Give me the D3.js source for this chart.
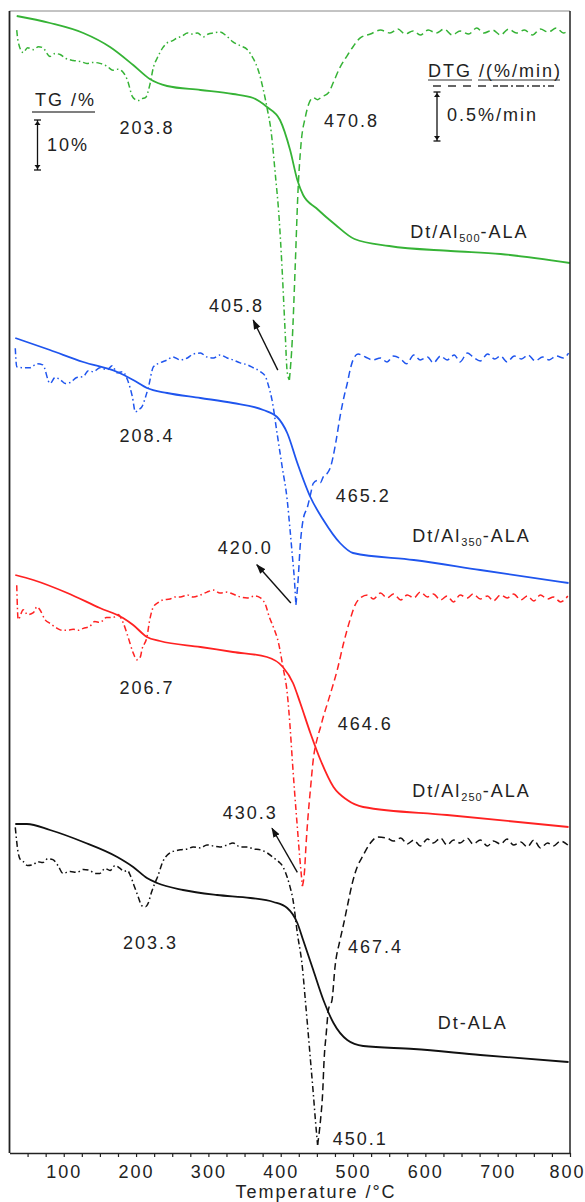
<!DOCTYPE html>
<html>
<head>
<meta charset="utf-8">
<script src="https://cdn.jsdelivr.net/npm/d3@7"></script>
<style>
  body { margin: 0; background: #fff; }
  text { font-family: "Liberation Sans", Arial, sans-serif; font-size: 18px; letter-spacing: 2px; fill: #222; }
</style>
</head>
<body>
<div id="chart"></div>
<script>
// ---- data (temperature °C, TG %, DTG %/min) ----
var greenTG = [[35,100],[81,98.6],[127,96.6],[164,93.8],[196,90.2],[219,87.4],[243,86],[289,85.2],[334,84.4],[362,83.6],[381,81.8],[399,79.2],[413,73.2],[423,67.2],[431,64.2],[449,61.6],[476,58.2],[502,55.4],[550,54],[635,53],[704,52.4],[800,50.6]];
var greenDTG = [[35,0.03],[37,-0.09],[44,-0.2],[50,-0.15],[58,-0.17],[65,-0.14],[71,-0.15],[81,-0.24],[88,-0.21],[95,-0.22],[103,-0.26],[113,-0.28],[123,-0.29],[132,-0.31],[141,-0.3],[150,-0.31],[160,-0.34],[168,-0.38],[175,-0.37],[182,-0.4],[188,-0.48],[195,-0.65],[199,-0.68],[203,-0.69],[208,-0.67],[213,-0.66],[219,-0.53],[224,-0.35],[229,-0.26],[233,-0.2],[237,-0.15],[243,-0.1],[250,-0.08],[257,-0.05],[264,-0.03],[271,0],[277,-0.01],[285,0],[293,-0.04],[300,-0.01],[307,0],[316,0.01],[325,-0.03],[334,-0.09],[344,-0.13],[354,-0.17],[362,-0.26],[369,-0.38],[376,-0.58],[381,-0.76],[387,-1.02],[392,-1.4],[398,-1.91],[402,-2.42],[406,-3.03],[409,-3.46],[412,-3.54],[416,-3.13],[420,-2.39],[424,-1.6],[428,-1.14],[434,-0.86],[439,-0.72],[445,-0.66],[451,-0.68],[457,-0.65],[466,-0.61],[473,-0.5],[482,-0.35],[492,-0.23],[500,-0.14],[510,-0.05],[524,-0.01],[538,0.03],[551,0],[562,0.04],[572,-0.01],[583,0.02],[593,-0.02],[604,0.03],[615,0],[626,0.04],[637,-0.02],[648,0.02],[660,-0.01],[671,0.05],[681,0],[693,0.03],[704,-0.02],[715,0.04],[726,0],[737,0.03],[748,-0.02],[759,0.04],[770,0.01],[781,0.05],[791,0],[798,0.03]];

var blueTG = [[33,100],[81,97.6],[127,95.2],[174,93.2],[196,91.6],[215,90],[243,89],[289,88],[334,87],[376,85.6],[395,84.2],[409,81],[423,75],[441,68.2],[459,63.6],[482,59],[500,57],[584,55.6],[676,53.6],[798,51]];
var blueDTG = [[33,0.09],[35,-0.1],[44,-0.11],[53,-0.11],[63,-0.07],[71,-0.08],[81,-0.27],[88,-0.21],[95,-0.23],[102,-0.27],[109,-0.26],[118,-0.21],[127,-0.2],[134,-0.14],[141,-0.15],[150,-0.11],[160,-0.13],[167,-0.09],[174,-0.16],[181,-0.15],[188,-0.23],[195,-0.41],[199,-0.56],[203,-0.54],[208,-0.51],[213,-0.41],[217,-0.31],[224,-0.1],[233,-0.06],[243,-0.03],[251,0],[261,-0.03],[271,-0.01],[279,0.03],[289,0.04],[298,0],[307,-0.01],[316,0.02],[326,-0.01],[334,-0.03],[344,-0.06],[354,-0.08],[362,-0.11],[372,-0.15],[379,-0.2],[383,-0.29],[388,-0.44],[395,-0.78],[402,-1.12],[409,-1.46],[413,-1.77],[416,-2.02],[419,-2.28],[421,-2.53],[424,-2.28],[427,-1.92],[431,-1.66],[437,-1.53],[441,-1.41],[445,-1.29],[451,-1.26],[455,-1.28],[459,-1.22],[464,-1.19],[469,-1.12],[476,-0.88],[482,-0.61],[488,-0.39],[492,-0.27],[496,-0.13],[500,-0.03],[507,0.03],[517,0],[527,-0.03],[538,-0.01],[547,-0.05],[556,0.01],[566,-0.02],[574,-0.07],[584,0.02],[593,-0.03],[603,0],[611,-0.06],[621,0.01],[630,-0.03],[640,0.02],[648,-0.05],[658,0.04],[666,0],[676,-0.04],[686,0.03],[696,-0.02],[704,0.01],[713,-0.05],[723,0.01],[733,-0.02],[742,0.02],[752,-0.04],[762,0],[771,-0.03],[781,0.01],[791,-0.01],[798,0.04]];

var redTG = [[33,100],[58,99],[105,96.4],[150,93.4],[182,91.4],[196,90],[215,87.6],[233,86.8],[289,85.6],[334,84.6],[381,83.6],[403,81.6],[417,78.4],[427,74.4],[441,68.4],[455,63],[473,57.6],[492,55],[514,53.6],[630,52],[798,49.6]];
var redDTG = [[35,0.11],[37,-0.24],[44,-0.14],[50,-0.19],[58,-0.17],[63,-0.11],[67,-0.14],[74,-0.24],[81,-0.28],[91,-0.33],[98,-0.35],[105,-0.35],[113,-0.34],[120,-0.35],[127,-0.33],[136,-0.31],[143,-0.26],[150,-0.27],[159,-0.22],[168,-0.22],[175,-0.19],[182,-0.27],[189,-0.42],[196,-0.58],[201,-0.65],[206,-0.62],[208,-0.55],[215,-0.42],[219,-0.24],[224,-0.11],[230,-0.07],[237,-0.04],[247,-0.03],[254,-0.01],[261,-0.01],[271,0.01],[279,-0.01],[289,0.01],[298,0.04],[307,0.06],[316,0.03],[326,0.04],[334,0.02],[344,-0.01],[354,-0.02],[364,0],[372,-0.02],[379,-0.09],[384,-0.21],[390,-0.32],[397,-0.48],[403,-0.72],[409,-0.99],[413,-1.34],[416,-1.67],[419,-1.98],[423,-2.36],[426,-2.64],[430,-2.96],[433,-2.8],[435,-2.54],[438,-2.23],[441,-1.98],[445,-1.67],[451,-1.44],[455,-1.34],[459,-1.23],[464,-1.11],[469,-0.99],[478,-0.76],[487,-0.48],[496,-0.24],[503,-0.09],[510,-0.02],[520,0.01],[528,-0.03],[538,0.03],[547,-0.02],[556,0.02],[566,-0.04],[575,0.01],[584,-0.02],[593,0.04],[603,-0.01],[611,0.02],[621,-0.04],[630,0],[639,-0.06],[648,0.01],[658,-0.02],[666,0.02],[676,-0.03],[686,0],[694,-0.05],[704,0.01],[713,-0.02],[722,0.02],[732,-0.04],[741,0],[750,-0.05],[759,0.01],[769,-0.03],[777,-0.01],[787,-0.06],[797,0]];

var blackTG = [[33,100],[49,100],[81,98.8],[127,96.4],[174,93.4],[196,91.4],[215,89.2],[229,88.2],[265,86.8],[312,85.8],[358,85.2],[390,84.4],[409,83.2],[423,80.2],[431,76.8],[445,70.8],[459,64.8],[473,60.2],[492,56.8],[514,55.6],[584,55],[676,53.8],[798,52.4]];
var blackDTG = [[33,0.16],[37,-0.1],[40,-0.17],[44,-0.19],[50,-0.23],[58,-0.22],[64,-0.19],[71,-0.2],[78,-0.16],[85,-0.17],[92,-0.23],[99,-0.31],[109,-0.29],[118,-0.3],[127,-0.27],[136,-0.28],[143,-0.31],[150,-0.31],[157,-0.26],[164,-0.28],[171,-0.23],[178,-0.26],[183,-0.29],[188,-0.28],[192,-0.33],[197,-0.43],[203,-0.55],[208,-0.64],[213,-0.65],[217,-0.61],[221,-0.51],[226,-0.41],[230,-0.34],[237,-0.19],[247,-0.1],[254,-0.08],[261,-0.07],[271,-0.06],[279,-0.04],[289,-0.05],[298,-0.02],[307,-0.03],[316,-0.04],[326,-0.02],[334,0],[344,-0.04],[354,-0.04],[362,-0.06],[372,-0.07],[381,-0.1],[390,-0.15],[397,-0.19],[403,-0.24],[409,-0.35],[413,-0.45],[417,-0.58],[423,-0.92],[430,-1.27],[434,-1.6],[438,-1.94],[442,-2.29],[445,-2.55],[448,-2.83],[451,-3.08],[455,-2.83],[458,-2.55],[460,-2.21],[463,-1.94],[466,-1.7],[471,-1.6],[475,-1.27],[482,-0.99],[486,-0.86],[492,-0.65],[499,-0.41],[506,-0.24],[513,-0.14],[524,0],[534,0.06],[547,0.05],[556,0.02],[566,0.05],[575,-0.01],[584,0.03],[593,-0.03],[603,0.04],[611,0],[621,0.05],[630,-0.02],[639,0.03],[648,0],[658,0.05],[666,-0.01],[676,0.03],[686,-0.03],[694,0.02],[704,-0.01],[713,0.04],[722,-0.02],[732,0.01],[741,-0.04],[750,0.03],[759,-0.05],[769,0],[777,-0.03],[787,0.02],[797,-0.02]];

var sampleNames = [["Dt/Al", "500", "-ALA"], ["Dt/Al", "350", "-ALA"], ["Dt/Al", "250", "-ALA"], ["Dt-ALA", "", ""]];
var seriesTG = [greenTG, blueTG, redTG, blackTG];
var seriesDTG = [greenDTG, blueDTG, redDTG, blackDTG];

// peak labels: [text, T, DTG value]
var peakLabels = [
  [["203.8", 215, -0.96], ["470.8", 498, -0.89], ["405.8", 339, -2.78]],
  [["208.4", 215, -0.80], ["465.2", 514, -1.41], ["420.0", 351, -1.94]],
  [["206.7", 215, -0.93], ["464.6", 517, -1.30], ["430.3", 358, -2.21]],
  [["203.3", 220, -1.02], ["467.4", 531, -1.06], ["450.1", 510, -3.02]]
];
// arrows: [T tail, DTG tail, T head, DTG head]
var peakArrows = [[396, -3.44, 362, -2.93], [414, -2.51, 367, -2.12], [423, -2.82, 388, -2.37], null];
// sample name position: [T, TG value]
var nameAt = [[579, 57], [582, 60.6], [582, 57], [617, 60.4]];

var xTicks = d3.range(50, 801, 25);

// ---- layout ----
var width = 585, height = 1202;
var plotL = 9.5, plotR = 570, plotT = 11, plotB = 1153;
var colors = ["#36b336", "#1f55ee", "#ff2222", "#111111"];
var tgTop = [16, 338, 575, 824];     // y of 100 %
var dtgBase = [33, 357, 596, 843];   // y of 0 %/min
var pxPerPct = 5, pxPerRate = 98;

var svg = d3.select("#chart").append("svg")
    .attr("width", width).attr("height", height);

var defs = svg.append("defs");
defs.append("marker")
    .attr("id", "arr").attr("viewBox", "0 0 10 10")
    .attr("refX", 9).attr("refY", 5)
    .attr("markerWidth", 10).attr("markerHeight", 10)
    .attr("markerUnits", "userSpaceOnUse").attr("orient", "auto")
  .append("path").attr("d", "M0,1.5L10,5L0,8.5z").attr("fill", "#111");

defs.append("clipPath").attr("id", "clip")
  .append("rect").attr("x", plotL).attr("y", plotT).attr("width", plotR - plotL).attr("height", plotB - plotT);

var x = d3.scaleLinear().domain([25, 800]).range([plotL, plotR]);

var plot = svg.append("g").attr("clip-path", "url(#clip)");

seriesTG.forEach(function(tg, i) {
  var tgY = d3.scaleLinear().domain([100, 0]).range([tgTop[i], tgTop[i] + 100 * pxPerPct]);
  var dtgY = d3.scaleLinear().domain([0, -1]).range([dtgBase[i], dtgBase[i] + pxPerRate]);

  var tgLine = d3.line().x(function(d) { return x(d[0]); }).y(function(d) { return tgY(d[1]); }).curve(d3.curveMonotoneX);
  var dtgLine = d3.line().x(function(d) { return x(d[0]); }).y(function(d) { return dtgY(d[1]); }).curve(d3.curveMonotoneX);

  var dtg = seriesDTG[i];
  var iMin = d3.minIndex(dtg, function(d) { return d[1]; });

  plot.append("path").attr("d", dtgLine(dtg.slice(0, iMin + 1)))
    .attr("fill", "none").attr("stroke", colors[i]).attr("stroke-width", 1.5)
    .attr("stroke-dasharray", "6,3,1.5,3");
  plot.append("path").attr("d", dtgLine(dtg.slice(iMin)))
    .attr("fill", "none").attr("stroke", colors[i]).attr("stroke-width", 1.5)
    .attr("stroke-dasharray", "7,4");

  plot.append("path").attr("d", tgLine(tg))
    .attr("fill", "none").attr("stroke", colors[i]).attr("stroke-width", 1.8);

  peakLabels[i].forEach(function(p) {
    svg.append("text").attr("x", x(p[1])).attr("y", dtgY(p[2]) + 6.5)
      .attr("text-anchor", "middle").text(p[0]);
  });

  var a = peakArrows[i];
  if (a) {
    svg.append("line")
      .attr("x1", x(a[0])).attr("y1", dtgY(a[1]))
      .attr("x2", x(a[2])).attr("y2", dtgY(a[3]))
      .attr("stroke", "#111").attr("stroke-width", 1.4)
      .attr("marker-end", "url(#arr)");
  }

  var nm = svg.append("text").attr("x", x(nameAt[i][0])).attr("y", tgY(nameAt[i][1]) + 6.5);
  nm.append("tspan").text(sampleNames[i][0]);
  if (sampleNames[i][1]) {
    nm.append("tspan").attr("dy", 4).style("font-size", "11px").style("letter-spacing", "1px").text(sampleNames[i][1]);
    nm.append("tspan").attr("dy", -4).text(sampleNames[i][2]);
  }
});

// frame
svg.append("line").attr("x1", plotL).attr("x2", plotR).attr("y1", plotT).attr("y2", plotT)
  .attr("stroke", "#888").attr("stroke-width", 1);
svg.append("line").attr("x1", plotL).attr("x2", plotL).attr("y1", plotT).attr("y2", plotB)
  .attr("stroke", "#222").attr("stroke-width", 1.8);
svg.append("line").attr("x1", plotR).attr("x2", plotR).attr("y1", plotT).attr("y2", plotB)
  .attr("stroke", "#222").attr("stroke-width", 1.5);

// x axis
var xAxis = svg.append("g").attr("transform", "translate(0," + plotB + ")")
  .call(d3.axisBottom(x).tickValues(xTicks).tickSize(4).tickSizeOuter(0).tickPadding(8)
    .tickFormat(function(d) { return d % 100 === 0 ? d : ""; }));
xAxis.select(".domain").attr("stroke", "#222").attr("stroke-width", 1.5);
xAxis.selectAll(".tick line").attr("stroke", "#222").attr("stroke-width", 1.2);
xAxis.selectAll("text").attr("font-size", null).attr("font-family", null).style("fill", "#222");
xAxis.selectAll(".tick text").filter(function(d) { return d === 800; }).attr("dx", -3);

svg.append("text").attr("x", 316).attr("y", 1198)
  .attr("text-anchor", "middle").text("Temperature /°C");

// TG legend
svg.append("text").attr("x", 35).attr("y", 106).text("TG /%");
svg.append("line").attr("x1", 32).attr("x2", 95).attr("y1", 112).attr("y2", 112)
  .attr("stroke", "#555").attr("stroke-width", 1.6);
function scaleBar(cx, y1, len) {
  var g = svg.append("g").attr("stroke", "#111").attr("stroke-width", 1.3);
  g.append("line").attr("x1", cx).attr("x2", cx).attr("y1", y1).attr("y2", y1 + len);
  [y1, y1 + len].forEach(function(yy) {
    g.append("line").attr("x1", cx - 3.5).attr("x2", cx + 3.5).attr("y1", yy).attr("y2", yy);
  });
  svg.append("path").attr("fill", "#111")
    .attr("d", "M" + (cx - 3) + "," + (y1 + 5) + "L" + (cx + 3) + "," + (y1 + 5) + "L" + cx + "," + (y1 + 1) + "Z" +
               "M" + (cx - 3) + "," + (y1 + len - 5) + "L" + (cx + 3) + "," + (y1 + len - 5) + "L" + cx + "," + (y1 + len - 1) + "Z");
}
scaleBar(37.5, 120, 10 * pxPerPct);
svg.append("text").attr("x", 47).attr("y", 151).text("10%");

// DTG legend
svg.append("text").attr("x", 428).attr("y", 77).text("DTG /(%/min)");
svg.append("line").attr("x1", 428).attr("x2", 472).attr("y1", 80).attr("y2", 80).attr("stroke", "#333").attr("stroke-width", 1);
svg.append("line").attr("x1", 478).attr("x2", 560).attr("y1", 80).attr("y2", 80).attr("stroke", "#333").attr("stroke-width", 1);
svg.append("line").attr("x1", 433).attr("x2", 498).attr("y1", 86).attr("y2", 86)
  .attr("stroke", "#333").attr("stroke-width", 1.4).attr("stroke-dasharray", "8,7");
svg.append("line").attr("x1", 500).attr("x2", 554).attr("y1", 86).attr("y2", 86)
  .attr("stroke", "#333").attr("stroke-width", 1.4).attr("stroke-dasharray", "8,3,2,3");
scaleBar(437, 92, 0.5 * pxPerRate);
svg.append("text").attr("x", 447).attr("y", 121).text("0.5%/min");
</script>
</body>
</html>
